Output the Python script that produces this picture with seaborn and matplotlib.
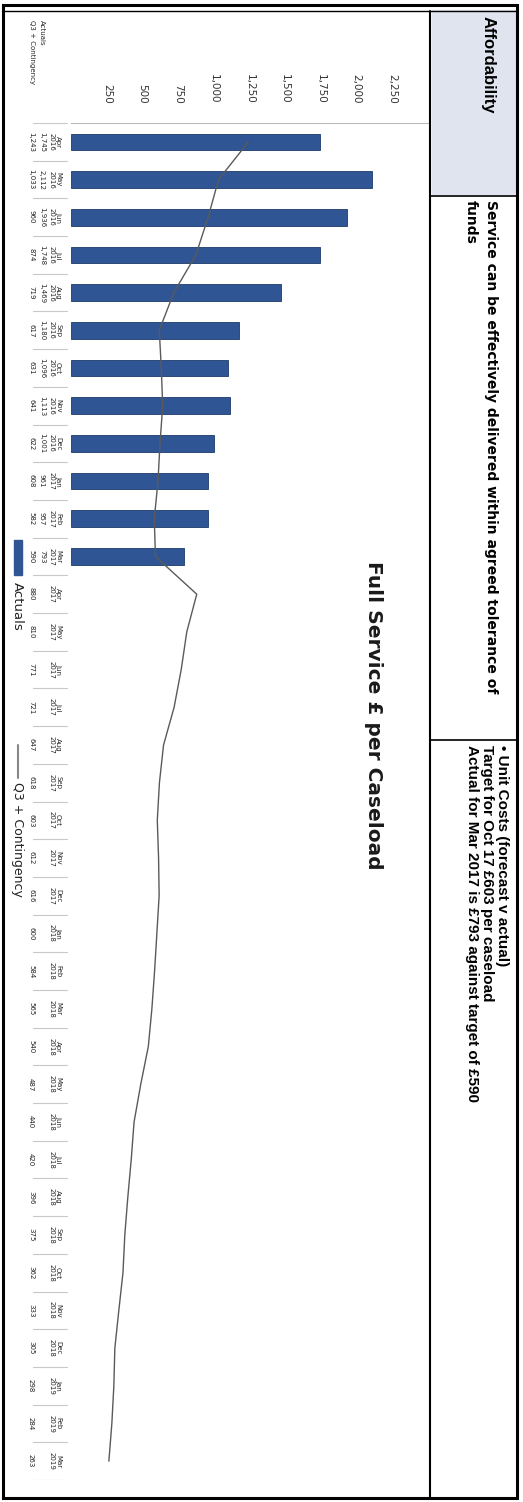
import matplotlib
matplotlib.use('Agg')
import matplotlib.pyplot as plt
import matplotlib.patches as mpatches
import matplotlib.lines as mlines
import seaborn as sns
import numpy as np
import pandas as pd

# Categories (Apr 2016 .. Mar 2019)
month_abbr = ['Apr', 'May', 'Jun', 'Jul', 'Aug', 'Sep', 'Oct', 'Nov', 'Dec', 'Jan', 'Feb', 'Mar',
              'Apr', 'May', 'Jun', 'Jul', 'Aug', 'Sep', 'Oct', 'Nov', 'Dec', 'Jan', 'Feb', 'Mar',
              'Apr', 'May', 'Jun', 'Jul', 'Aug', 'Sep', 'Oct', 'Nov', 'Dec', 'Jan', 'Feb', 'Mar']
month_year = ['2016'] * 9 + ['2017'] * 12 + ['2018'] * 12 + ['2019'] * 3
months = [f"{m}\n{y}" for m, y in zip(month_abbr, month_year)]

# Series values
actuals = [1745, 2112, 1936, 1748, 1469, 1180, 1096, 1113, 1001, 961, 957, 793]
q3_contingency = [1243, 1033, 960, 874, 719, 617, 631, 641, 622, 608, 582, 590,
                  880, 810, 771, 721, 647, 618, 603, 612, 616, 600, 584, 565,
                  540, 487, 440, 420, 396, 375, 362, 333, 305, 298, 284, 263]

value_ticks = [250, 500, 750, 1000, 1250, 1500, 1750, 2000, 2250]

# Header text
header_left = "Affordability"
header_mid = ["Service can be effectively delivered within agreed tolerance of", "funds"]
header_right = ["\u2022 Unit Costs (forecast v actual)",
                "Target for Oct 17 \u00a3603 per caseload",
                "Actual for Mar 2017 is \u00a3793 against target of \u00a3590"]
title = "Full Service \u00a3 per Caseload"

bar_color = '#2f5594'
line_color = '#5a5a5a'

sns.set_style('white')
plt.rcParams['font.family'] = ['DejaVu Sans']

W, H = 523, 1502


def fx(x):
    return x / W


def fy(y):
    return 1 - y / H


fig = plt.figure(figsize=(W / 100, H / 100), dpi=100)

ax_l, ax_r, ax_t, ax_b = 71.4, 427.5, 123, 1480
ax = fig.add_axes([fx(ax_l), fy(ax_b), (ax_r - ax_l) / W, (ax_b - ax_t) / H])

df_bar = pd.DataFrame({'month': months[:12], 'value': actuals})
sns.barplot(data=df_bar, x='value', y='month', order=months, orient='y',
            color=bar_color, saturation=1, width=0.44,
            edgecolor='#1d3a69', linewidth=0.6, ax=ax)

df_line = pd.DataFrame({'month': months, 'value': q3_contingency})
sns.lineplot(data=df_line, x='value', y='month', sort=False, orient='y',
             estimator=None, color=line_color, linewidth=1.0, ax=ax)

ax.set_xlim(0, 2500)
ax.set_ylim(35.5, -0.5)
ax.xaxis.tick_top()
ax.set_xticks(value_ticks)
ax.set_xticklabels([f"{v:,}" for v in value_ticks], rotation=-90, fontsize=7.5, color='#333333')
ax.tick_params(axis='x', length=0, pad=14)
ax.set_yticks([])
ax.set_xlabel('')
ax.set_ylabel('')
for side in ['right', 'bottom', 'left']:
    ax.spines[side].set_visible(False)
ax.spines['top'].set_color('#bbbbbb')
ax.spines['top'].set_linewidth(0.8)

# overlay axes for the data table under the chart
tab = fig.add_axes([0, fy(ax_b), 1, (ax_b - ax_t) / H])
tab.set_xlim(0, W)
tab.set_ylim(35.5, -0.5)
tab.axis('off')

for i in range(len(months)):
    tab.text(58, i, month_abbr[i], rotation=-90, ha='center', va='center', fontsize=5)
    tab.text(51.5, i, month_year[i], rotation=-90, ha='center', va='center', fontsize=5)
    if i < len(actuals):
        tab.text(42, i, f"{actuals[i]:,}", rotation=-90, ha='center', va='center', fontsize=5)
    tab.text(31, i, f"{q3_contingency[i]:,}", rotation=-90, ha='center', va='center',
             fontsize=5, color='#222222')
for i in range(len(months) + 1):
    tab.plot([33, 67], [i - 0.5, i - 0.5], color='#c8c8c8', linewidth=0.8)

# table row labels
fig.text(fx(42), fy(20), "Actuals", rotation=-90, rotation_mode='anchor',
         ha='left', va='center', fontsize=5)
fig.text(fx(32), fy(20), "Q3 + Contingency", rotation=-90, rotation_mode='anchor',
         ha='left', va='center', fontsize=5)

# chart title
fig.text(fx(373), fy(715), title, rotation=-90, ha='center', va='center',
         fontsize=14.5, fontweight='bold', color='#1a1a1a')

# legend
fig.add_artist(mpatches.Rectangle((fx(14), fy(575)), 8 / W, 35 / H,
                                  transform=fig.transFigure, color=bar_color))
fig.text(fx(17.5), fy(582), "Actuals", rotation=-90, rotation_mode='anchor',
         ha='left', va='center', fontsize=9.5, color='#222222')
fig.add_artist(mlines.Line2D([fx(18), fx(18)], [fy(745), fy(778)],
                             transform=fig.transFigure, color='#888888', linewidth=1.5))
fig.text(fx(17.5), fy(782), "Q3 + Contingency", rotation=-90, rotation_mode='anchor',
         ha='left', va='center', fontsize=9, color='#222222')

# header cells
fig.add_artist(mpatches.Rectangle((fx(432), fy(194)), (515 - 432) / W, (194 - 10) / H,
                                  transform=fig.transFigure, color='#dfe4ee', zorder=0))
hdr_font = ['Liberation Sans', 'DejaVu Sans']
fig.text(fx(488), fy(16), header_left, rotation=-90, rotation_mode='anchor',
         ha='left', va='center', fontsize=12, fontweight='bold', family=hdr_font, color='black')
fig.text(fx(491), fy(200), header_mid[0], rotation=-90, rotation_mode='anchor',
         ha='left', va='center', fontsize=10, fontweight='bold', family=['DejaVu Sans'],
         color='black')
fig.text(fx(471), fy(200), header_mid[1], rotation=-90, rotation_mode='anchor',
         ha='left', va='center', fontsize=10, fontweight='bold', family=['DejaVu Sans'],
         color='black')
for k, line in enumerate(header_right):
    fig.text(fx(502 - 15 * k), fy(745), line, rotation=-90, rotation_mode='anchor',
             ha='left', va='center', fontsize=11, fontweight='bold', family=hdr_font,
             color='black')

# frame and header grid
fig.add_artist(mpatches.Rectangle((fx(3), fy(1498)), (517 - 3) / W, (1498 - 5) / H,
                                  transform=fig.transFigure, fill=False,
                                  edgecolor='black', linewidth=2.2))
fig.add_artist(mlines.Line2D([fx(3), fx(517)], [fy(11), fy(11)],
                             transform=fig.transFigure, color='black', linewidth=1))
fig.add_artist(mlines.Line2D([fx(430), fx(430)], [fy(11), fy(1498)],
                             transform=fig.transFigure, color='black', linewidth=1.5))
for yy in [196, 740]:
    fig.add_artist(mlines.Line2D([fx(430), fx(517)], [fy(yy), fy(yy)],
                                 transform=fig.transFigure, color='black', linewidth=1.2))

fig.savefig('out.png', dpi=100)
